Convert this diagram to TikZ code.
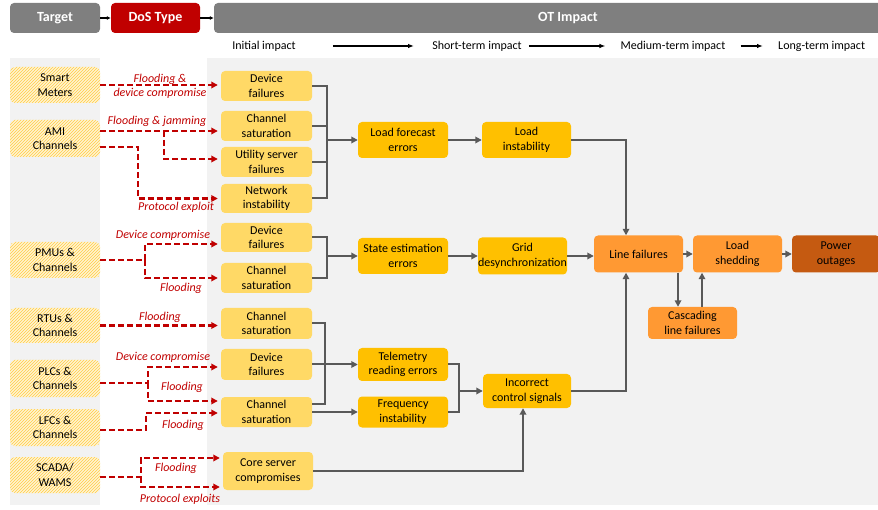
\documentclass[tikz,border=0pt]{standalone}
\usepackage{fontspec}
\setmainfont{Carlito}
\usetikzlibrary{arrows.meta,patterns}
\definecolor{cHead}{RGB}{127,127,127}
\definecolor{cDoS}{RGB}{192,0,0}
\definecolor{cPanel}{RGB}{242,242,242}
\definecolor{cTgtBg}{RGB}{255,244,210}
\definecolor{cTgtHatch}{RGB}{255,204,70}
\definecolor{cInit}{RGB}{255,217,102}
\definecolor{cMid}{RGB}{255,192,0}
\definecolor{cLine}{RGB}{255,153,51}
\definecolor{cOut}{RGB}{197,90,17}
\definecolor{cConn}{RGB}{89,89,89}
\definecolor{cAtk}{RGB}{192,0,0}

\begin{document}
\begin{tikzpicture}[x=1pt,y=-1pt,
  every node/.style={font=\fontsize{12}{14.5}\selectfont, align=center, inner sep=0pt},
  head/.style={fill=cHead, rounded corners=4pt, text=white, font=\fontsize{14}{16}\selectfont\bfseries, minimum height=30},
  tgt/.style={fill=cTgtBg, postaction={pattern=north east lines, pattern color=cTgtHatch}, rounded corners=5pt, minimum width=90},
  init/.style={fill=cInit, rounded corners=4pt, minimum width=91},
  mid/.style={fill=cMid, rounded corners=4pt, minimum width=90},
  late/.style={fill=cLine, rounded corners=4pt, minimum width=89},
  conn/.style={cConn, line width=2pt},
  carr/.style={conn, -{Triangle[length=6.5pt,width=6.5pt]}},
  dos/.style={cAtk, line width=2.1pt, dash pattern=on 6pt off 3pt, -{Triangle[length=6.5pt,width=6.5pt]}, shorten >=3pt},
  atk/.style={text=cAtk, font=\fontsize{12}{14}\selectfont\itshape},
  harr/.style={-{Latex[length=4pt,width=4pt]}, line width=1.4pt},
  parr/.style={-{Latex[length=6pt,width=4.5pt]}, line width=1.4pt}]
\useasboundingbox (0,0) rectangle (878,510);
% panels
\fill[cPanel] (10,58) rectangle (100,505);
\fill[cPanel] (207,58) rectangle (880,505);
% header
\node[head, minimum width=90] (hTarget) at (55,18) {Target};
\node[head, minimum width=89, fill=cDoS] (hDoS) at (155.5,18) {DoS Type};
\node[head, minimum width=708] (hOT) at (568,18) {OT Impact};
\draw[harr] (hTarget) -- (hDoS);
\draw[harr] (hDoS) -- (hOT);
% phases
\node (pInit) at (264,46) {Initial impact};
\node (pShort) at (477,46) {Short-term impact};
\node (pMed) at (673,46) {Medium-term impact};
\node[anchor=west] (pLong) at (778,46) {Long-term impact};
\draw[parr, shorten <=37pt, shorten >=18pt] (pInit) -- (pShort);
\draw[parr, shorten <=7pt, shorten >=15pt] (pShort) -- (pMed);
\draw[parr, shorten <=15pt, shorten >=15pt] (pMed) -- (pLong);
% targets
\node[tgt, minimum height=36] (tSmart) at (55,85) {Smart\\Meters};
\node[tgt, minimum height=37] (tAMI) at (55,138.5) {AMI\\Channels};
\node[tgt, minimum height=36] (tPMU) at (55,260) {PMUs \&\\Channels};
\node[tgt, minimum height=35] (tRTU) at (55,325.5) {RTUs \&\\Channels};
\node[tgt, minimum height=37] (tPLC) at (55,378.5) {PLCs \&\\Channels};
\node[tgt, minimum height=37] (tLFC) at (55,427.5) {LFCs \&\\Channels};
\node[tgt, minimum height=36] (tSCADA) at (55,475) {SCADA/\\WAMS};
% initial impact
\node[init, minimum height=30] (iDev1) at (266.5,86) {Device\\failures};
\node[init, minimum height=30] (iSat1) at (266.5,126) {Channel\\saturation};
\node[init, minimum height=30] (iUtil) at (266.5,162) {Utility server\\failures};
\node[init, minimum height=29] (iNet) at (266.5,198.5) {Network\\instability};
\node[init, minimum height=29] (iDev2) at (266.5,237.5) {Device\\failures};
\node[init, minimum height=30] (iSat2) at (266.5,278) {Channel\\saturation};
\node[init, minimum height=31] (iSat3) at (266.5,323.5) {Channel\\saturation};
\node[init, minimum height=31] (iDev3) at (266.5,364.5) {Device\\failures};
\node[init, minimum height=30] (iSat4) at (266.5,412) {Channel\\saturation};
\node[init, minimum height=38, minimum width=90] (iCore) at (268,471) {Core server\\compromises};
% short and medium term
\node[mid, minimum height=36] (mLoad) at (403,140) {Load forecast\\errors};
\node[mid, minimum height=36] (mState) at (403,256) {State estimation\\errors};
\node[mid, minimum height=33] (mTele) at (403,364.5) {Telemetry\\reading errors};
\node[mid, minimum height=31] (mFreq) at (403,412) {Frequency\\instability};
\node[mid, minimum height=36, minimum width=89] (mLinst) at (526.5,140) {Load\\instability};
\node[mid, minimum height=37, minimum width=89] (mGrid) at (522.5,256) {Grid\\desynchronization};
\node[mid, minimum height=34, minimum width=88] (mCtrl) at (527,391) {Incorrect\\control signals};
% long term
\node[late, minimum height=37] (oLine) at (638.5,254) {Line failures};
\node[late, minimum height=37] (oShed) at (737.5,254) {Load\\shedding};
\node[late, minimum height=37, minimum width=88, fill=cOut] (oPower) at (836,254) {Power\\outages};
\node[late, minimum height=32] (oCasc) at (692.5,323) {Cascading\\line failures};
% impact chains
\coordinate (b1) at (327,140);
\draw[conn] (iDev1.east) -| (b1);
\draw[conn] (iSat1.east) -| (b1);
\draw[conn] (iUtil.east) -| (b1);
\draw[conn] (iNet.east) -| (b1);
\draw[carr] (b1) -- (mLoad.west);
\draw[carr] (mLoad) -- (mLinst);
\draw[carr] (mLinst.east) -| ([xshift=-12.5pt]oLine.north);
\coordinate (b2) at (327,256);
\draw[conn] (iDev2.east) -| (b2);
\draw[conn] (iSat2.east) -| (b2);
\draw[carr] (b2) -- (mState.west);
\draw[carr] (mState) -- (mGrid);
\draw[carr] (mGrid.east) -- (mGrid.east -| oLine.west);
\draw[carr] (oLine) -- (oShed);
\draw[carr] (oShed) -- (oPower);
\draw[carr] ([xshift=-14.5pt]oCasc.north |- oLine.south) -- ([xshift=-14.5pt]oCasc.north);
\draw[carr] ([xshift=9.5pt]oCasc.north) -- ([xshift=9.5pt]oCasc.north |- oShed.south);
\coordinate (b3) at (325,364.5);
\draw[conn] (iSat3.east) -| (b3) |- ([yshift=8pt]iSat4.east);
\draw[carr] (iDev3.east) -- (mTele.west);
\draw[carr] (iSat4.east) -- (mFreq.west);
\coordinate (b4) at (459,391);
\draw[conn] (mTele.east) -| (b4) |- (mFreq.east);
\draw[carr] (b4) -- (mCtrl.west);
\draw[carr] (iCore.east) -| ([xshift=-4pt]mCtrl.south);
\draw[carr] (mCtrl.east) -| ([xshift=-12.5pt]oLine.south);
% DoS attacks
\draw[dos] (tSmart.east) -- (tSmart.east -| iDev1.west);
\node[atk] (lSmart) at (160,86) {Flooding \&\\device compromise};
\coordinate (a1) at (164,131);
\draw[dos] ([yshift=7.5pt]tAMI.east) -- ([yshift=-5pt]iSat1.west);
\draw[dos] (a1) |- ([yshift=3pt]iUtil.west);
\node[atk] (lAMI) at (157,121) {Flooding \& jamming};
\coordinate (a2) at (138,198.5);
\draw[dos] ([yshift=-8.5pt]tAMI.east) -| (a2) -- (iNet.west);
\node[atk] (lProt) at (176,207.5) {Protocol exploit};
\coordinate (a3) at (145,260);
\draw[dos] (tPMU.east) -- (a3) |- ([yshift=-6.5pt]iDev2.west);
\draw[dos] (a3) |- (iSat2.west);
\node[atk] (lPMUdev) at (163,235) {Device compromise};
\node[atk] (lPMUfl) at (181,288) {Flooding};
\draw[dos] (tRTU.east) -- (tRTU.east -| iSat3.west);
\node[atk] (lRTU) at (160,317) {Flooding};
\coordinate (a4) at (148,383);
\draw[dos] ([yshift=-4.5pt]tPLC.east) -- (a4) |- ([yshift=-2.5pt]iDev3.west);
\draw[dos] (a4) |- ([yshift=11pt]iSat4.west);
\node[atk] (lPLCdev) at (163,357) {Device compromise};
\node[atk] (lPLCfl) at (182,387) {Flooding};
\coordinate (a5) at (146,430);
\draw[dos] ([yshift=-2.5pt]tLFC.east) -- (a5) |- ([yshift=-1pt]iSat4.west);
\node[atk] (lLFC) at (183,425) {Flooding};
\coordinate (a6) at (141,477);
\draw[dos] ([yshift=-2pt]tSCADA.east) -- (a6) |- ([yshift=13pt]iCore.west);
\draw[dos] (a6) |- ([yshift=-16pt]iCore.west);
\node[atk] (lSCfl) at (176,468) {Flooding};
\node[atk] (lSCpr) at (180,499) {Protocol exploits};
\end{tikzpicture}
\end{document}
